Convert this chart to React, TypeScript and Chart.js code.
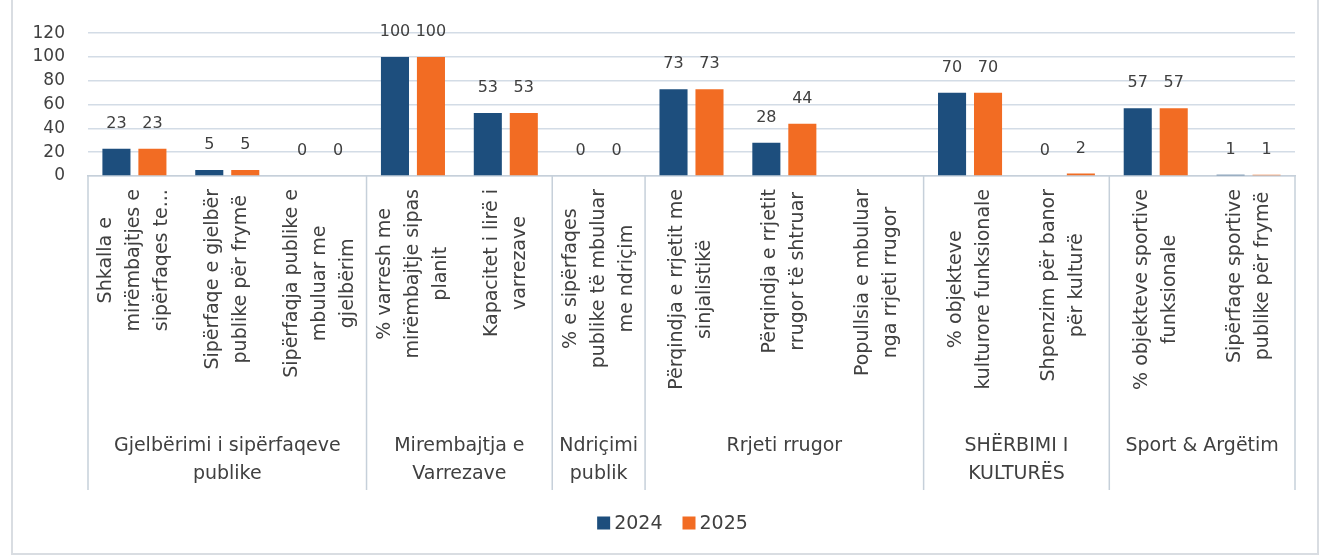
import React, { useEffect, useRef } from "react";
import { Chart, registerables } from "chart.js";

Chart.register(...registerables);

const categoryLines: string[][] = [
  ["Shkalla e", "mirëmbajtjes e", "sipërfaqes te..."],
  ["Sipërfaqe e gjelbër", "publike për frymë"],
  ["Sipërfaqja publike e", "mbuluar me", "gjelbërim"],
  ["% varresh me", "mirëmbajtje sipas", "planit"],
  ["Kapacitet i lirë i", "varrezave"],
  ["% e sipërfaqes", "publike të mbuluar", "me ndriçim"],
  ["Përqindja e rrjetit me", "sinjalistikë"],
  ["Përqindja e rrjetit", "rrugor të shtruar"],
  ["Popullsia e mbuluar", "nga rrjeti rrugor"],
  ["% objekteve", "kulturore funksionale"],
  ["Shpenzim për banor", "për kulturë"],
  ["% objekteve sportive", "funksionale"],
  ["Sipërfaqe sportive", "publike për frymë"],
];

const groupLines: string[][] = [
  ["Gjelbërimi i sipërfaqeve", "publike"],
  ["Mirembajtja e", "Varrezave"],
  ["Ndriçimi", "publik"],
  ["Rrjeti rrugor"],
  ["SHËRBIMI I", "KULTURËS"],
  ["Sport & Argëtim"],
];
const groupSizes = [3, 2, 1, 3, 2, 2];

const seriesNames = ["2024", "2025"];
const values2024: (number | null)[] = [23, 5, 0, 100, 53, 0, 73, 28, null, 70, 0, 57, 1];
const values2025: (number | null)[] = [23, 5, 0, 100, 53, 0, 73, 44, null, 70, 2, 57, 1];

const yMin = 0;
const yMax = 120;
const yStep = 20;

const W = 1327;
const H = 558;
const FONT = "'DejaVu Sans', sans-serif";
const TEXT = "#404040";
const BLUE = "#1d4e7d";
const ORANGE = "#f26c23";
const GRID = "#d3dce6";
const AXIS = "#c6d0da";

const overlayPlugin = {
  id: "overlay",
  beforeDraw(chart: any) {
    const ctx = chart.ctx;
    ctx.save();
    ctx.fillStyle = "#ffffff";
    ctx.fillRect(0, 0, chart.width, chart.height);
    ctx.restore();
  },
  afterDraw(chart: any) {
    const ctx = chart.ctx;
    const xs = chart.scales.x;
    const area = chart.chartArea;
    ctx.save();

    // data labels
    ctx.fillStyle = TEXT;
    ctx.font = `16px ${FONT}`;
    ctx.textAlign = "center";
    ctx.textBaseline = "middle";
    chart.data.datasets.forEach((ds: any, i: number) => {
      const meta = chart.getDatasetMeta(i);
      meta.data.forEach((bar: any, j: number) => {
        const v = ds.data[j];
        if (v === null || v === undefined) return;
        ctx.fillText(String(v), bar.x, bar.y - 25);
      });
    });

    // category labels (rotated)
    const step = xs.getPixelForValue(1) - xs.getPixelForValue(0);
    ctx.font = `19px ${FONT}`;
    const catLineH = 28;
    const catTop = area.bottom + 13;
    categoryLines.forEach((lines, i) => {
      const cx = xs.getPixelForValue(i);
      const maxW = Math.max(...lines.map((l) => ctx.measureText(l).width));
      ctx.save();
      ctx.translate(cx, catTop + maxW / 2);
      ctx.rotate(-Math.PI / 2);
      ctx.textAlign = "center";
      ctx.textBaseline = "middle";
      lines.forEach((l, k) => {
        ctx.fillText(l, 0, (k - (lines.length - 1) / 2) * catLineH);
      });
      ctx.restore();
    });

    // separators and group labels
    ctx.strokeStyle = AXIS;
    ctx.lineWidth = 1.5;
    let idx = 0;
    const boundaries: number[] = [xs.getPixelForValue(0) - step / 2];
    groupSizes.forEach((n) => {
      idx += n;
      boundaries.push(xs.getPixelForValue(idx - 1) + step / 2);
    });
    boundaries.forEach((bx) => {
      ctx.beginPath();
      ctx.moveTo(bx, area.bottom);
      ctx.lineTo(bx, 490);
      ctx.stroke();
    });
    ctx.font = `19px ${FONT}`;
    ctx.fillStyle = TEXT;
    ctx.textAlign = "center";
    ctx.textBaseline = "middle";
    groupLines.forEach((lines, g) => {
      const cx = (boundaries[g] + boundaries[g + 1]) / 2;
      lines.forEach((l, k) => {
        ctx.fillText(l, cx, 446 + k * 28);
      });
    });

    // legend
    const colors = [BLUE, ORANGE];
    const legendY = 523;
    ctx.font = `19px ${FONT}`;
    ctx.textAlign = "left";
    const box = 13;
    const gap = 4;
    const itemGap = 20;
    const widths = seriesNames.map((n) => box + gap + ctx.measureText(n).width);
    const total = widths.reduce((a, b) => a + b, 0) + itemGap * (seriesNames.length - 1);
    let lx = W / 2 + 9 - total / 2;
    seriesNames.forEach((n, i) => {
      ctx.fillStyle = colors[i];
      ctx.fillRect(lx, legendY - box / 2, box, box);
      ctx.fillStyle = TEXT;
      ctx.fillText(n, lx + box + gap, legendY + 1);
      lx += widths[i] + itemGap;
    });

    // chart border
    ctx.strokeStyle = "#d9dde2";
    ctx.lineWidth = 2;
    ctx.strokeRect(12, -10, 1306, 564);

    ctx.restore();
  },
};

export default function App() {
  const canvasRef = useRef<HTMLCanvasElement | null>(null);

  useEffect(() => {
    const canvas = canvasRef.current;
    if (!canvas) return;
    const chart = new Chart(canvas, {
      type: "bar",
      data: {
        labels: categoryLines.map((l) => l.join(" ")),
        datasets: [
          {
            label: seriesNames[0],
            data: values2024,
            backgroundColor: BLUE,
            categoryPercentage: 0.775,
            barPercentage: 0.78,
          },
          {
            label: seriesNames[1],
            data: values2025,
            backgroundColor: ORANGE,
            categoryPercentage: 0.775,
            barPercentage: 0.78,
          },
        ],
      },
      options: {
        animation: false,
        responsive: false,
        devicePixelRatio: 1,
        layout: { padding: { top: 25, right: 32, bottom: 0, left: 0 } },
        plugins: {
          legend: { display: false },
          tooltip: { enabled: false },
        },
        scales: {
          x: {
            grid: { display: false },
            ticks: { display: false },
            border: { display: true, color: AXIS, width: 1.5 },
            afterFit: (s: any) => {
              s.height = H - 176;
            },
          },
          y: {
            min: yMin,
            max: yMax,
            ticks: {
              stepSize: yStep,
              autoSkip: false,
              padding: 23,
              color: TEXT,
              font: { family: FONT, size: 17 },
            },
            grid: { color: GRID, lineWidth: 1.5, drawTicks: false },
            border: { display: false },
            afterFit: (s: any) => {
              s.width = 88;
            },
          },
        },
      },
      plugins: [overlayPlugin],
    } as any);
    return () => chart.destroy();
  }, []);

  return (
    <div style={{ position: "fixed", left: 0, top: 0, width: W, height: H }}>
      <canvas ref={canvasRef} width={W} height={H} style={{ display: "block" }} />
    </div>
  );
}
